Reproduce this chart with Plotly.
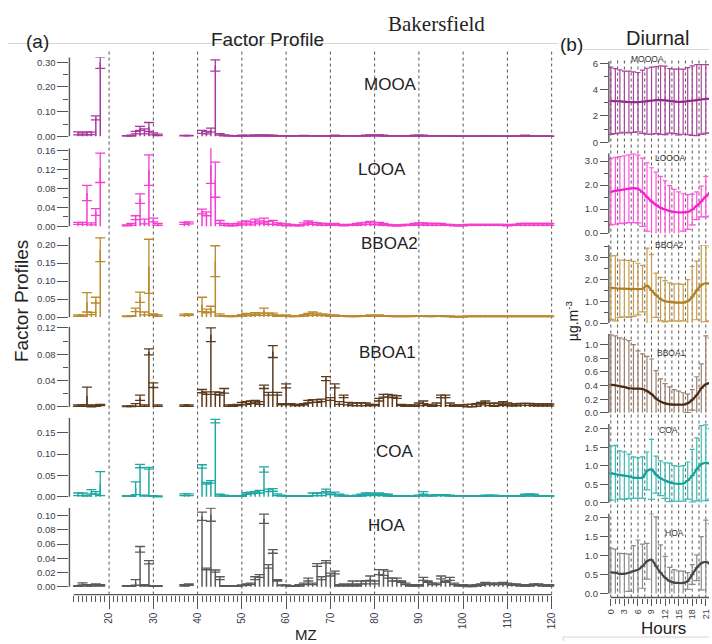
import plotly.graph_objects as go

W, H = 712, 644

# ---------------- data: factor profiles (fraction of signal per m/z) ----------------
MZ = [13, 14, 15, 16, 17, 18,
      24, 25, 26, 27, 28, 29, 30, 31,
      37, 38,
      41, 42, 43, 44, 45, 46, 47, 48, 49, 50,
      51, 52, 53, 54, 55, 56, 57, 58, 59, 60,
      61, 62, 63, 64, 65, 66, 67, 68, 69, 70,
      71, 72, 73, 74, 75, 76, 77, 78, 79, 80,
      81, 82, 83, 84, 85, 86, 87, 88, 89, 90,
      91, 92, 93, 94, 95, 96, 97, 98, 99, 100,
      101, 102, 103, 104, 105, 106, 107, 108, 109, 110,
      111, 112, 113, 114, 115, 116, 117, 118, 119, 120]

MOOA_V = [0.012, 0.010, 0.012, 0.012, 0.075, 0.298,
          0.002, 0.003, 0.015, 0.032, 0.020, 0.038, 0.010, 0.006,
          0.003, 0.003,
          0.018, 0.015, 0.025, 0.287, 0.008, 0.004, 0.003, 0.002, 0.002, 0.003,
          0.003, 0.002, 0.004, 0.003, 0.004, 0.003, 0.003, 0.002, 0.002, 0.002,
          0.002, 0.002, 0.002, 0.003, 0.002, 0.002, 0.002, 0.002, 0.002, 0.002,
          0.003, 0.002, 0.002, 0.002, 0.002, 0.002, 0.002, 0.003, 0.004, 0.004,
          0.004, 0.003, 0.002, 0.002, 0.002, 0.002, 0.002, 0.002, 0.003, 0.003,
          0.003, 0.002, 0.002, 0.002, 0.002, 0.002, 0.002, 0.001, 0.001, 0.001,
          0.001, 0.001, 0.001, 0.001, 0.002, 0.001, 0.001, 0.001, 0.001, 0.001,
          0.001, 0.001, 0.002, 0.003, 0.002, 0.001, 0.001, 0.001, 0.001, 0.001]
MOOA_E = [0.006, 0.004, 0.006, 0.005, 0.008, 0.023,
          0.001, 0.002, 0.005, 0.008, 0.010, 0.018, 0.004, 0.003,
          0.001, 0.001,
          0.006, 0.005, 0.008, 0.023, 0.003, 0.002, 0.001, 0.001, 0.001, 0.002,
          0.002, 0.001, 0.002, 0.002, 0.002, 0.002, 0.002, 0.001, 0.001, 0.001,
          0.001, 0.001, 0.001, 0.001, 0.001, 0.001, 0.001, 0.001, 0.001, 0.001,
          0.002, 0.001, 0.001, 0.001, 0.001, 0.001, 0.001, 0.002, 0.002, 0.002,
          0.002, 0.002, 0.001, 0.001, 0.001, 0.001, 0.001, 0.001, 0.002, 0.002,
          0.002, 0.001, 0.001, 0.001, 0.001, 0.001, 0.001, 0.001, 0.001, 0.001,
          0.001, 0.001, 0.001, 0.001, 0.001, 0.001, 0.001, 0.001, 0.001, 0.001,
          0.001, 0.001, 0.001, 0.002, 0.001, 0.001, 0.001, 0.001, 0.001, 0.001]

LOOA_V = [0.006, 0.006, 0.070, 0.005, 0.030, 0.123,
          0.002, 0.004, 0.018, 0.058, 0.010, 0.118, 0.013, 0.004,
          0.006, 0.007,
          0.031, 0.026, 0.128, 0.098, 0.009, 0.004, 0.003, 0.003, 0.004, 0.006,
          0.008, 0.006, 0.011, 0.008, 0.012, 0.007, 0.008, 0.005, 0.004, 0.003,
          0.003, 0.002, 0.002, 0.005, 0.008, 0.006, 0.005, 0.004, 0.004, 0.003,
          0.004, 0.003, 0.002, 0.003, 0.003, 0.004, 0.005, 0.006, 0.007, 0.005,
          0.006, 0.004, 0.003, 0.002, 0.002, 0.002, 0.003, 0.003, 0.004, 0.005,
          0.005, 0.004, 0.004, 0.004, 0.004, 0.003, 0.003, 0.002, 0.002, 0.002,
          0.003, 0.003, 0.003, 0.003, 0.003, 0.003, 0.003, 0.003, 0.003, 0.002,
          0.003, 0.003, 0.004, 0.004, 0.004, 0.004, 0.004, 0.004, 0.004, 0.004]
LOOA_E = [0.002, 0.002, 0.016, 0.002, 0.007, 0.031,
          0.001, 0.002, 0.004, 0.010, 0.005, 0.032, 0.004, 0.002,
          0.002, 0.002,
          0.005, 0.004, 0.038, 0.037, 0.003, 0.002, 0.002, 0.002, 0.002, 0.003,
          0.003, 0.003, 0.004, 0.003, 0.005, 0.003, 0.004, 0.002, 0.002, 0.002,
          0.001, 0.001, 0.001, 0.002, 0.003, 0.002, 0.002, 0.002, 0.002, 0.001,
          0.002, 0.001, 0.001, 0.001, 0.001, 0.002, 0.002, 0.002, 0.003, 0.002,
          0.002, 0.002, 0.001, 0.001, 0.001, 0.001, 0.001, 0.001, 0.002, 0.002,
          0.002, 0.002, 0.002, 0.002, 0.002, 0.001, 0.001, 0.001, 0.001, 0.001,
          0.001, 0.001, 0.001, 0.001, 0.001, 0.001, 0.001, 0.001, 0.001, 0.001,
          0.001, 0.001, 0.002, 0.002, 0.002, 0.002, 0.002, 0.002, 0.002, 0.002]

BBOA2_V = [0.004, 0.004, 0.041, 0.010, 0.047, 0.187,
           0.002, 0.003, 0.020, 0.055, 0.010, 0.141, 0.007, 0.004,
           0.006, 0.007,
           0.035, 0.017, 0.022, 0.155, 0.006, 0.003, 0.002, 0.002, 0.003, 0.005,
           0.007, 0.006, 0.009, 0.008, 0.018, 0.008, 0.008, 0.004, 0.003, 0.004,
           0.002, 0.002, 0.003, 0.005, 0.007, 0.010, 0.008, 0.006, 0.006, 0.004,
           0.004, 0.003, 0.003, 0.002, 0.002, 0.002, 0.003, 0.003, 0.004, 0.003,
           0.004, 0.003, 0.003, 0.002, 0.002, 0.002, 0.002, 0.002, 0.003, 0.003,
           0.003, 0.002, 0.002, 0.003, 0.003, 0.002, 0.002, 0.001, 0.001, 0.001,
           0.002, 0.002, 0.002, 0.002, 0.002, 0.002, 0.002, 0.002, 0.002, 0.002,
           0.002, 0.002, 0.002, 0.002, 0.002, 0.002, 0.002, 0.002, 0.002, 0.002]
BBOA2_E = [0.002, 0.002, 0.027, 0.003, 0.008, 0.033,
           0.001, 0.001, 0.005, 0.014, 0.004, 0.075, 0.002, 0.002,
           0.002, 0.002,
           0.020, 0.005, 0.008, 0.043, 0.003, 0.001, 0.001, 0.001, 0.001, 0.002,
           0.003, 0.002, 0.003, 0.003, 0.007, 0.003, 0.003, 0.002, 0.001, 0.002,
           0.001, 0.001, 0.001, 0.002, 0.003, 0.004, 0.003, 0.002, 0.002, 0.002,
           0.002, 0.001, 0.001, 0.001, 0.001, 0.001, 0.001, 0.001, 0.002, 0.001,
           0.002, 0.001, 0.001, 0.001, 0.001, 0.001, 0.001, 0.001, 0.001, 0.001,
           0.001, 0.001, 0.001, 0.001, 0.001, 0.001, 0.001, 0.001, 0.001, 0.001,
           0.001, 0.001, 0.001, 0.001, 0.001, 0.001, 0.001, 0.001, 0.001, 0.001,
           0.001, 0.001, 0.001, 0.001, 0.001, 0.001, 0.001, 0.001, 0.001, 0.001]

BBOA1_V = [0.002, 0.002, 0.0165, 0.001, 0.002, 0.003,
           0.001, 0.001, 0.003, 0.014, 0.002, 0.0835, 0.033, 0.002,
           0.002, 0.002,
           0.024, 0.021, 0.1095, 0.021, 0.020, 0.0245, 0.002, 0.002, 0.003, 0.005,
           0.006, 0.007, 0.008, 0.006, 0.0305, 0.020, 0.084, 0.020, 0.004, 0.032,
           0.004, 0.003, 0.003, 0.004, 0.008, 0.009, 0.009, 0.010, 0.043, 0.012,
           0.032, 0.006, 0.016, 0.005, 0.004, 0.004, 0.004, 0.004, 0.003, 0.003,
           0.011, 0.017, 0.017, 0.016, 0.015, 0.003, 0.002, 0.002, 0.002, 0.004,
           0.007, 0.003, 0.002, 0.004, 0.016, 0.016, 0.004, 0.002, 0.002, 0.002,
           0.002, 0.002, 0.003, 0.005, 0.007, 0.004, 0.003, 0.004, 0.006, 0.004,
           0.003, 0.003, 0.004, 0.004, 0.004, 0.003, 0.003, 0.003, 0.003, 0.003]
BBOA1_E = [0.001, 0.001, 0.0135, 0.001, 0.001, 0.001,
           0.0005, 0.0005, 0.002, 0.004, 0.001, 0.0045, 0.0035, 0.001,
           0.001, 0.001,
           0.0025, 0.002, 0.0105, 0.002, 0.002, 0.0035, 0.001, 0.001, 0.001, 0.002,
           0.002, 0.002, 0.002, 0.002, 0.0025, 0.002, 0.009, 0.002, 0.001, 0.003,
           0.001, 0.001, 0.001, 0.001, 0.002, 0.002, 0.002, 0.002, 0.003, 0.002,
           0.003, 0.002, 0.002, 0.002, 0.002, 0.002, 0.002, 0.002, 0.001, 0.001,
           0.002, 0.002, 0.002, 0.002, 0.002, 0.001, 0.001, 0.001, 0.001, 0.002,
           0.002, 0.001, 0.001, 0.002, 0.002, 0.002, 0.002, 0.001, 0.001, 0.001,
           0.002, 0.002, 0.002, 0.002, 0.002, 0.002, 0.002, 0.002, 0.002, 0.002,
           0.0015, 0.0015, 0.0015, 0.0015, 0.0015, 0.0015, 0.0015, 0.0015, 0.0015, 0.0015]

COA_V = [0.006, 0.006, 0.003, 0.012, 0.009, 0.031,
         0.002, 0.002, 0.020, 0.072, 0.003, 0.067, 0.002, 0.001,
         0.005, 0.005,
         0.071, 0.032, 0.035, 0.177, 0.004, 0.003, 0.002, 0.002, 0.002, 0.002,
         0.008, 0.009, 0.010, 0.012, 0.064, 0.015, 0.016, 0.005, 0.003, 0.002,
         0.002, 0.002, 0.002, 0.002, 0.002, 0.006, 0.006, 0.006, 0.015, 0.007,
         0.008, 0.004, 0.003, 0.002, 0.002, 0.003, 0.004, 0.006, 0.007, 0.005,
         0.007, 0.005, 0.004, 0.002, 0.002, 0.002, 0.002, 0.002, 0.002, 0.003,
         0.009, 0.003, 0.003, 0.004, 0.004, 0.004, 0.003, 0.002, 0.002, 0.002,
         0.002, 0.002, 0.002, 0.002, 0.003, 0.003, 0.003, 0.002, 0.002, 0.002,
         0.002, 0.002, 0.002, 0.004, 0.005, 0.004, 0.002, 0.002, 0.002, 0.002]
COA_E = [0.003, 0.003, 0.001, 0.005, 0.003, 0.028,
         0.001, 0.001, 0.015, 0.004, 0.001, 0.002, 0.001, 0.001,
         0.002, 0.002,
         0.004, 0.002, 0.003, 0.004, 0.002, 0.001, 0.001, 0.001, 0.001, 0.001,
         0.002, 0.002, 0.002, 0.003, 0.006, 0.003, 0.003, 0.002, 0.001, 0.001,
         0.001, 0.001, 0.001, 0.001, 0.001, 0.003, 0.003, 0.003, 0.003, 0.002,
         0.003, 0.002, 0.001, 0.001, 0.001, 0.001, 0.002, 0.003, 0.002, 0.002,
         0.002, 0.002, 0.002, 0.001, 0.001, 0.001, 0.001, 0.001, 0.001, 0.001,
         0.003, 0.001, 0.001, 0.001, 0.001, 0.001, 0.001, 0.001, 0.001, 0.001,
         0.001, 0.001, 0.001, 0.001, 0.001, 0.001, 0.001, 0.001, 0.001, 0.001,
         0.001, 0.001, 0.001, 0.002, 0.002, 0.002, 0.001, 0.001, 0.001, 0.001]

HOA_V = [0.001, 0.004, 0.002, 0.002, 0.003, 0.002,
         0.001, 0.001, 0.006, 0.0525, 0.002, 0.0343, 0.001, 0.001,
         0.002, 0.003,
         0.099, 0.025, 0.1013, 0.022, 0.012, 0.001, 0.001, 0.001, 0.001, 0.002,
         0.003, 0.004, 0.012, 0.015, 0.0955, 0.0285, 0.0495, 0.009, 0.002, 0.002,
         0.001, 0.001, 0.002, 0.004, 0.010, 0.004, 0.0305, 0.012, 0.035, 0.017,
         0.020, 0.002, 0.003, 0.002, 0.006, 0.002, 0.006, 0.006, 0.012, 0.006,
         0.0205, 0.020, 0.017, 0.010, 0.010, 0.007, 0.004, 0.002, 0.002, 0.002,
         0.011, 0.007, 0.004, 0.004, 0.013, 0.007, 0.011, 0.004, 0.002, 0.002,
         0.001, 0.001, 0.002, 0.003, 0.005, 0.004, 0.004, 0.004, 0.005, 0.004,
         0.003, 0.003, 0.002, 0.002, 0.002, 0.003, 0.003, 0.002, 0.002, 0.002]
HOA_E = [0.0005, 0.0015, 0.001, 0.001, 0.001, 0.001,
         0.0005, 0.0005, 0.004, 0.004, 0.001, 0.0023, 0.0005, 0.0005,
         0.001, 0.001,
         0.0058, 0.0012, 0.0093, 0.0015, 0.002, 0.0005, 0.0005, 0.0005, 0.0005, 0.0005,
         0.001, 0.001, 0.002, 0.002, 0.0065, 0.0025, 0.0025, 0.001, 0.0005, 0.0005,
         0.0005, 0.0005, 0.001, 0.001, 0.002, 0.001, 0.002, 0.002, 0.0017, 0.002,
         0.002, 0.001, 0.001, 0.001, 0.002, 0.001, 0.002, 0.002, 0.003, 0.002,
         0.0035, 0.004, 0.005, 0.002, 0.002, 0.001, 0.001, 0.001, 0.001, 0.001,
         0.002, 0.001, 0.001, 0.001, 0.002, 0.001, 0.002, 0.001, 0.001, 0.001,
         0.001, 0.001, 0.001, 0.001, 0.001, 0.001, 0.001, 0.001, 0.001, 0.001,
         0.001, 0.001, 0.001, 0.001, 0.001, 0.001, 0.001, 0.001, 0.001, 0.001]

# ---------------- data: diurnal cycles (µg m-3), mean and standard deviation ----------------
HOURS = [0, 1, 2, 3, 4, 5, 6, 7, 8, 9, 10, 11, 12, 13, 14, 15, 16, 17, 18, 19, 20, 21, 22, 23]
HOUR_TICKS = [0, 3, 6, 9, 12, 15, 18, 21]
HOUR_GRID = [0, 1.5, 3, 4.5, 6, 7.5, 9, 10.5, 12, 13.5, 15, 16.5, 18, 19.5, 21]
MZ_GRID = [20, 30, 40, 50, 60, 70, 80, 90, 100, 110, 120]

MOOOA_MEAN = [3.15, 3.13, 3.10, 3.08, 3.06, 3.05, 3.05, 3.08, 3.12, 3.16, 3.20, 3.20,
              3.18, 3.15, 3.10, 3.06, 3.08, 3.12, 3.16, 3.20, 3.25, 3.30, 3.30, 3.25]
MOOOA_SD = [2.55, 2.47, 2.40, 2.32, 2.34, 2.30, 2.25, 2.40, 2.50, 2.55, 2.55, 2.60,
            2.60, 2.45, 2.45, 2.50, 2.47, 2.55, 2.64, 2.70, 2.65, 2.60, 2.60, 2.58]
LOOOA_MEAN = [1.72, 1.76, 1.79, 1.82, 1.85, 1.87, 1.84, 1.70, 1.50, 1.32, 1.17, 1.06,
              0.98, 0.92, 0.88, 0.86, 0.86, 0.88, 0.98, 1.14, 1.32, 1.52, 1.68, 1.72]
LOOOA_SD = [1.38, 1.39, 1.39, 1.40, 1.41, 1.43, 1.41, 1.42, 1.42, 1.40, 1.37, 1.30,
            1.20, 1.06, 0.94, 0.86, 0.78, 0.72, 0.64, 0.58, 0.64, 0.84, 0.97, 1.18]
BBOA2_MEAN = [1.63, 1.60, 1.58, 1.58, 1.57, 1.57, 1.56, 1.58, 1.72, 1.50, 1.28, 1.10,
              1.00, 0.97, 0.95, 0.94, 0.94, 1.00, 1.20, 1.50, 1.75, 1.83, 1.80, 1.70]
BBOA2_SD = [1.46, 1.50, 1.32, 1.30, 1.31, 1.27, 1.19, 1.07, 1.73, 1.65, 1.02, 1.00,
            0.95, 0.88, 0.85, 0.86, 0.84, 1.00, 1.40, 1.35, 1.85, 1.77, 1.70, 1.60]
BBOA1_MEAN = [0.415, 0.405, 0.39, 0.38, 0.36, 0.357, 0.355, 0.35, 0.32, 0.275, 0.21, 0.165,
              0.14, 0.125, 0.12, 0.12, 0.12, 0.14, 0.19, 0.26, 0.36, 0.42, 0.44, 0.43]
BBOA1_SD = [0.73, 0.725, 0.71, 0.70, 0.70, 0.643, 0.555, 0.515, 0.51, 0.515, 0.41, 0.335,
            0.29, 0.255, 0.22, 0.20, 0.175, 0.135, 0.15, 0.27, 0.36, 0.71, 0.66, 0.67]
COA_MEAN = [0.80, 0.77, 0.75, 0.73, 0.71, 0.68, 0.67, 0.68, 0.86, 0.90, 0.76, 0.66,
            0.60, 0.55, 0.52, 0.51, 0.52, 0.60, 0.73, 0.90, 1.04, 1.08, 1.05, 0.95]
COA_SD = [0.73, 0.78, 0.65, 0.64, 0.60, 0.56, 0.55, 0.56, 0.51, 0.81, 0.50, 0.47,
          0.48, 0.52, 0.48, 0.47, 0.48, 0.50, 0.71, 0.85, 1.04, 1.02, 0.95, 0.85]
HOA_MEAN = [0.56, 0.55, 0.52, 0.52, 0.55, 0.59, 0.63, 0.72, 0.85, 0.89, 0.72, 0.55,
            0.42, 0.33, 0.29, 0.28, 0.28, 0.33, 0.50, 0.68, 0.80, 0.83, 0.78, 0.65]
HOA_SD = [0.63, 0.62, 0.54, 0.53, 0.49, 0.67, 0.78, 0.58, 0.47, 1.21, 1.30, 0.73,
          0.56, 0.36, 0.34, 0.32, 0.31, 0.22, 0.26, 0.34, 0.70, 1.10, 1.06, 0.75]

# ---------------- layout helpers ----------------
def fx(px):
    return px / W


def fy(py):
    return 1 - py / H


FONT = "Liberation Sans, Arial, sans-serif"
TICKC = "#3b3b4c"
AXC = "#555555"

fig = go.Figure()
shapes = []
annotations = []

# left panel: factor profiles
LX0, LX1 = 67, 556
LXR = [11.04, 120.6]
left_panels = [
    # name, values, errors, colour, top px, bottom px, y range, dtick, minor dtick, label pos
    ("MOOA", MOOA_V, MOOA_E, "#A8389C", 53, 137, [-0.016, 0.32], 0.1, 0.05, (391, 80)),
    ("LOOA", LOOA_V, LOOA_E, "#F43ECF", 145, 228, [-0.0083, 0.1642], 0.04, 0.02, (382, 167)),
    ("BBOA2", BBOA2_V, BBOA2_E, "#B98A2E", 235, 320, [-0.011, 0.222], 0.05, None, (390, 242)),
    ("BBOA1", BBOA1_V, BBOA1_E, "#5B3A1E", 326, 411, [-0.006, 0.1214], 0.04, 0.02, (388, 352)),
    ("COA", COA_V, COA_E, "#20A8A2", 418, 502, [-0.0092, 0.1848], 0.05, None, (395, 452)),
    ("HOA", HOA_V, HOA_E, "#5A5A5A", 509, 597, [-0.0111, 0.1111], 0.02, None, (387, 527)),
]

for i, (name, vals, errs, col, top, bot, yr, dt, mdt, lab) in enumerate(left_panels, start=1):
    xa, ya = f"x{i}", f"y{i}"
    # stick from zero to value
    fig.add_trace(go.Scatter(
        x=MZ, y=vals, mode="markers", xaxis=xa, yaxis=ya,
        marker=dict(size=1, color="rgba(0,0,0,0)"),
        error_y=dict(type="data", symmetric=False, array=[0] * len(vals), arrayminus=vals,
                     color=col, thickness=1.5, width=0),
        showlegend=False, hoverinfo="skip"))
    # uncertainty bar with caps
    fig.add_trace(go.Scatter(
        x=MZ, y=vals, mode="markers", xaxis=xa, yaxis=ya,
        marker=dict(size=1, color="rgba(0,0,0,0)"),
        error_y=dict(type="data", array=errs, color=col, thickness=1.3, width=5),
        showlegend=False, hoverinfo="skip"))
    xkey = "xaxis" if i == 1 else f"xaxis{i}"
    ykey = "yaxis" if i == 1 else f"yaxis{i}"
    xdict = dict(domain=[fx(LX0), fx(LX1)], range=LXR, anchor=ya, showgrid=False,
                 zeroline=False, showline=False)
    if i == 6:
        xdict.update(ticks="outside", tickmode="linear", tick0=0, dtick=10, ticklen=13,
                     tickwidth=1.2, tickcolor=AXC, tickangle=-90,
                     tickfont=dict(family=FONT, size=10, color=TICKC),
                     minor=dict(ticks="outside", dtick=1, tick0=0, ticklen=6,
                                tickwidth=1, tickcolor=AXC))
    else:
        xdict.update(showticklabels=False, ticks="")
    if i > 1:
        xdict["matches"] = "x"
    fig.layout[xkey] = xdict
    ydict = dict(domain=[fy(bot), fy(top)], range=yr, anchor=xa, showgrid=False,
                 zeroline=False, showline=False, ticks="outside", tickmode="linear",
                 tick0=0, dtick=dt, ticklen=11, tickwidth=1.2, tickcolor=AXC,
                 tickformat=".2f", tickfont=dict(family=FONT, size=9.5, color=TICKC))
    if mdt:
        ydict["minor"] = dict(ticks="outside", dtick=mdt, tick0=0, ticklen=5,
                              tickwidth=1.2, tickcolor=AXC)
    fig.layout[ykey] = ydict
    shapes.append(dict(type="line", xref="paper", yref=ya, x0=fx(LX0), x1=fx(LX0),
                       y0=0, y1=yr[1], line=dict(color=AXC, width=1.4)))
    annotations.append(dict(text=name, x=fx(lab[0]), y=fy(lab[1]), xref="paper", yref="paper",
                            xanchor="center", yanchor="middle", showarrow=False,
                            font=dict(family=FONT, size=17, color="#222222")))

# left x axis line and dotted separators
shapes.append(dict(type="line", xref="x6", yref="paper", x0=12, x1=120, y0=fy(597), y1=fy(597),
                   line=dict(color=AXC, width=1.4)))
for m in MZ_GRID:
    shapes.append(dict(type="line", xref="x6", yref="paper", x0=m, x1=m, y0=fy(597), y1=fy(46),
                       line=dict(color="#555555", width=1, dash="dot"), layer="below"))

# right panel: diurnal cycles
RX0, RX1 = 611, 712
RXR = [-0.44, 21.71]
right_panels = [
    ("MOOOA", MOOOA_MEAN, MOOOA_SD, "#A8459B", "#922C86", 57, 141, [-0.15, 6.15], 2, 1, ".0f", (650, 55)),
    ("LOOOA", LOOOA_MEAN, LOOOA_SD, "#FF55DA", "#F21FCB", 150, 233, [-0.082, 3.329], 1, 0.5, ".1f", (673, 155)),
    ("BBOA2", BBOA2_MEAN, BBOA2_SD, "#C79D4E", "#AD7F22", 243, 324, [-0.091, 3.591], 1, 0.5, ".1f", (672, 243)),
    ("BBOA1", BBOA1_MEAN, BBOA1_SD, "#9C8170", "#4A2912", 333, 415, [-0.029, 1.159], 0.2, None, ".1f", (674, 352)),
    ("COA", COA_MEAN, COA_SD, "#3DBBB4", "#12A09A", 424, 506, [-0.053, 2.133], 0.5, None, ".1f", (671, 430)),
    ("HOA", HOA_MEAN, HOA_SD, "#8C8C8C", "#454545", 515, 600, [-0.104, 2.104], 0.5, None, ".1f", (677, 535)),
]

for j, (name, mean, sd, bcol, lcol, top, bot, yr, dt, mdt, fmt, lab) in enumerate(right_panels, start=7):
    xa, ya = f"x{j}", f"y{j}"
    lower = [min(s, m) for s, m in zip(sd, mean)]
    # upper half of the spread, capped
    fig.add_trace(go.Scatter(
        x=HOURS, y=mean, mode="markers", xaxis=xa, yaxis=ya,
        marker=dict(size=1, color="rgba(0,0,0,0)"),
        error_y=dict(type="data", symmetric=False, array=sd, arrayminus=[0] * len(sd),
                     color=bcol, thickness=1.2, width=2.5),
        showlegend=False, hoverinfo="skip"))
    # lower half of the spread, stopped at zero
    fig.add_trace(go.Scatter(
        x=HOURS, y=mean, mode="markers", xaxis=xa, yaxis=ya,
        marker=dict(size=1, color="rgba(0,0,0,0)"),
        error_y=dict(type="data", symmetric=False, array=[0] * len(sd), arrayminus=lower,
                     color=bcol, thickness=1.2, width=0),
        showlegend=False, hoverinfo="skip"))
    # lower caps where the spread stays above zero
    cx = [h for h, m, s in zip(HOURS, mean, sd) if m - s > 0]
    cy = [m - s for m, s in zip(mean, sd) if m - s > 0]
    fig.add_trace(go.Scatter(
        x=cx, y=cy, mode="markers", xaxis=xa, yaxis=ya,
        marker=dict(symbol="line-ew", size=5, line=dict(color=bcol, width=1.2)),
        showlegend=False, hoverinfo="skip"))
    # mean diurnal line
    fig.add_trace(go.Scatter(
        x=HOURS, y=mean, mode="lines", xaxis=xa, yaxis=ya,
        line=dict(color=lcol, width=2.2, shape="spline", smoothing=0.8),
        showlegend=False, hoverinfo="skip"))
    xdict = dict(domain=[fx(RX0), fx(RX1)], range=RXR, anchor=ya, showgrid=False,
                 zeroline=False, showline=False)
    if j == 12:
        xdict.update(ticks="outside", tickmode="array", tickvals=HOUR_TICKS,
                     ticktext=[str(h) for h in HOUR_TICKS], ticklen=7, tickwidth=1.2,
                     tickcolor=AXC, tickangle=-90,
                     tickfont=dict(family=FONT, size=9, color=TICKC),
                     minor=dict(ticks="outside", tickvals=HOURS, ticklen=5,
                                tickwidth=1, tickcolor=AXC))
    else:
        xdict.update(showticklabels=False, ticks="")
    if j > 7:
        xdict["matches"] = "x7"
    fig.layout[f"xaxis{j}"] = xdict
    ydict = dict(domain=[fy(bot), fy(top)], range=yr, anchor=xa, showgrid=False,
                 zeroline=False, showline=False, ticks="outside", tickmode="linear",
                 tick0=0, dtick=dt, ticklen=8, tickwidth=1.2, tickcolor=AXC,
                 tickformat=fmt, tickfont=dict(family=FONT, size=9.5, color=TICKC))
    if mdt:
        ydict["minor"] = dict(ticks="outside", dtick=mdt, tick0=0, ticklen=4,
                              tickwidth=1.2, tickcolor=AXC)
    fig.layout[f"yaxis{j}"] = ydict
    shapes.append(dict(type="line", xref="paper", yref=ya, x0=fx(RX0), x1=fx(RX0),
                       y0=0, y1=yr[1], line=dict(color=AXC, width=1.4)))
    annotations.append(dict(text=name, x=fx(lab[0]), y=fy(lab[1]), xref="paper", yref="paper",
                            xanchor="center", yanchor="middle", showarrow=False,
                            font=dict(family=FONT, size=8.5, color="#333333")))

shapes.append(dict(type="line", xref="x12", yref="paper", x0=0, x1=21.71, y0=fy(600), y1=fy(600),
                   line=dict(color=AXC, width=1.4)))
for h in HOUR_GRID:
    shapes.append(dict(type="line", xref="x12", yref="paper", x0=h, x1=h, y0=fy(600), y1=fy(53),
                       line=dict(color="#555555", width=1, dash="dot"), layer="below"))

# frame lines of the composite figure
shapes.append(dict(type="line", xref="paper", yref="paper", x0=fx(5), x1=fx(560), y0=fy(39), y1=fy(39),
                   line=dict(color="#d6d6d6", width=1)))
shapes.append(dict(type="line", xref="paper", yref="paper", x0=fx(585), x1=1, y0=fy(45), y1=fy(45),
                   line=dict(color="#d6d6d6", width=1)))
shapes.append(dict(type="line", xref="paper", yref="paper", x0=fx(565), x1=1, y0=fy(640), y1=fy(640),
                   line=dict(color="#d6d6d6", width=1)))
shapes.append(dict(type="line", xref="paper", yref="paper", x0=fx(565), x1=fx(565), y0=fy(640), y1=0,
                   line=dict(color="#d6d6d6", width=1)))


def txt(s, x, y, size, family=FONT, color="#222222", angle=0):
    annotations.append(dict(text=s, x=fx(x), y=fy(y), xref="paper", yref="paper",
                            xanchor="center", yanchor="middle", showarrow=False,
                            textangle=angle, font=dict(family=family, size=size, color=color)))


txt("(a)", 35, 37, 19)
txt("Factor Profile", 267, 35, 19)
txt("Bakersfield", 437, 19, 21, family="Liberation Serif, Times New Roman, serif")
txt("(b)", 573, 40, 19)
txt("Diurnal", 660, 33, 20)
txt("Factor Profiles", 18, 300, 19, angle=-90)
txt("MZ", 306, 637, 15)
txt("Hours", 666, 631, 17)
txt("µg.m<sup>-3</sup>", 574, 320, 14, angle=-90)

fig.update_layout(
    width=W, height=H, margin=dict(l=0, r=0, t=0, b=0),
    paper_bgcolor="white", plot_bgcolor="rgba(0,0,0,0)",
    shapes=shapes, annotations=annotations, showlegend=False,
    font=dict(family=FONT),
)

fig.write_html("out.html", config={"displayModeBar": False},
               post_script="document.body.style.margin='0';document.body.style.overflow='hidden';")
